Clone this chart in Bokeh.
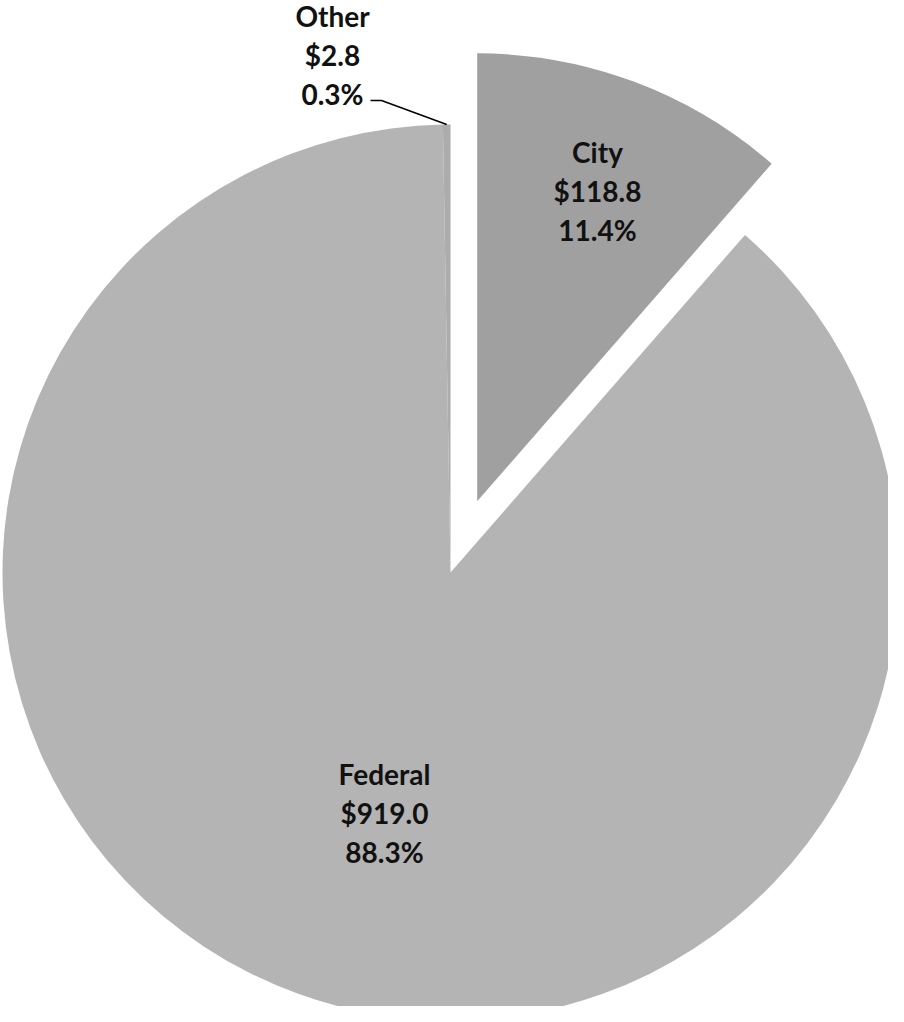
import math
from bokeh.plotting import figure
from bokeh.models import Range1d, ColumnDataSource
from bokeh.core.properties import value
from bokeh.embed import file_html
from bokeh.resources import INLINE

# ---- data ----
categories = ["City", "Federal", "Other"]
amounts = [118.8, 919.0, 2.8]
percents = [11.4, 88.3, 0.3]
colors = ["#a0a0a0", "#b4b4b4", "#acacac"]

# ---- layout (screen pixels) ----
W, H = 888, 1006
CX, CY, R = 450, 572, 448
EXPLODE = {"City": 76, "Federal": 0, "Other": 0}
LABEL_POS = {"City": (597, 151), "Federal": (384, 773), "Other": (332, 15)}
LINE_GAP = 39
FONT = "Lato"

p = figure(width=W, height=H, output_backend="svg", toolbar_location=None,
           x_range=Range1d(0, W), y_range=Range1d(-H, 0),
           min_border=0, background_fill_color="white", border_fill_color="white")
p.axis.visible = False
p.grid.visible = False
p.outline_line_color = None

total = sum(amounts)
f0 = 0.0
xs, ys, starts, ends = [], [], [], []
for name, amt in zip(categories, amounts):
    f1 = f0 + amt / total
    a_start = math.pi / 2 - 2 * math.pi * f1
    a_end = math.pi / 2 - 2 * math.pi * f0
    mid = (a_start + a_end) / 2
    d = EXPLODE[name]
    xs.append(CX + d * math.cos(mid))
    ys.append(-CY + d * math.sin(mid))
    starts.append(a_start)
    ends.append(a_end)
    f0 = f1

src = ColumnDataSource(dict(x=xs, y=ys, start=starts, end=ends, color=colors))
p.wedge(x="x", y="y", radius=R, start_angle="start", end_angle="end",
        direction="anticlock", fill_color="color", line_color=None, source=src)

# labels
tx, ty, tt = [], [], []
for name, amt, pct in zip(categories, amounts, percents):
    lx, ly = LABEL_POS[name]
    for i, s in enumerate([name, "${:.1f}".format(amt), "{:.1f}%".format(pct)]):
        tx.append(lx)
        ty.append(-(ly + i * LINE_GAP))
        tt.append(s)
p.text(x=tx, y=ty, text=tt, text_align="center", text_baseline="middle",
       text_font=value(FONT), text_font_style="bold", text_font_size="28px",
       text_color="#111111")

# leader line for "Other"
other_i = categories.index("Other")
oa = (starts[other_i] + ends[other_i]) / 2
ex, ey = CX + R * math.cos(oa), -CY + R * math.sin(oa)
p.line(x=[370, 381, ex], y=[-100, -100, ey], line_color="black", line_width=1.5)

open("out.html", "w").write(file_html(p, INLINE))
